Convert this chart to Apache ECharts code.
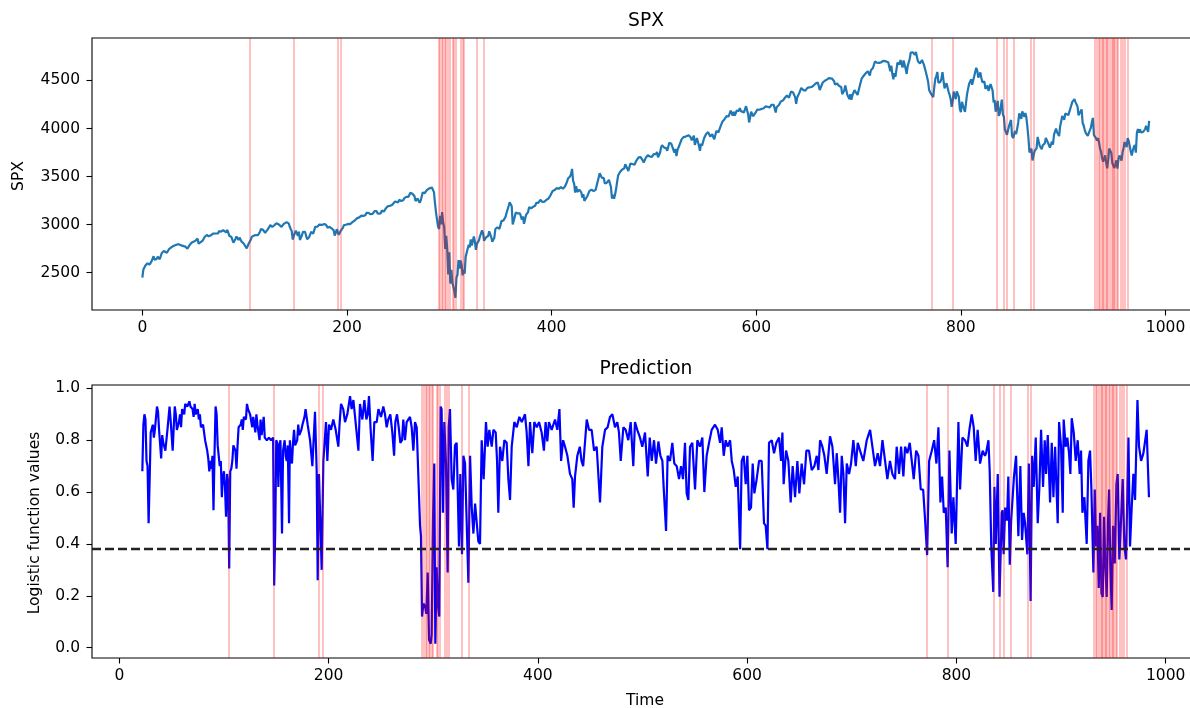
<!DOCTYPE html>
<html>
<head>
<meta charset="utf-8">
<title>SPX and prediction</title>
<script src="https://cdn.jsdelivr.net/npm/echarts@6/dist/echarts.min.js"></script>
<style>
  html, body { margin: 0; padding: 0; background: #fff; overflow: hidden; }
  #chart { width: 1210px; height: 708px; }
</style>
</head>
<body>
<div id="chart"></div>
<script>
// ---- S&P 500 closes by trading-day index ----
const spx2019 = [[0,2448],[1,2532],[3,2574],[5,2597],[7,2583],[9,2617],[11,2671],[12,2633],[14,2643],[15,2665],[17,2640],[19,2704],[21,2725],[22,2738],[24,2707],[26,2744],[27,2754],[30,2776],[32,2784],[34,2793],[36,2793],[38,2784],[39,2804],[42,2771],[44,2749],[45,2743],[46,2784],[48,2811],[50,2822],[52,2833],[54,2854],[55,2801],[57,2818],[59,2834],[61,2873],[63,2892],[65,2878],[67,2888],[69,2905],[72,2907],[74,2907],[75,2934],[77,2926],[79,2943],[80,2946],[82,2918],[83,2946],[85,2884],[87,2871],[89,2812],[91,2850],[92,2876],[94,2840],[95,2865],[97,2822],[99,2803],[100,2784],[102,2752],[103,2744],[104,2804],[106,2843],[107,2873],[109,2885],[111,2891],[113,2889],[115,2926],[116,2954],[118,2945],[120,2913],[122,2942],[124,2973],[125,2996],[127,2976],[129,2993],[131,3014],[133,3004],[134,2985],[136,2977],[138,3005],[139,3020],[141,3026],[143,3013],[144,2980],[145,2954],[146,2932],[147,2844],[148,2882],[150,2938],[152,2883],[153,2926],[154,2840],[156,2889],[157,2924],[159,2925],[161,2847],[163,2869],[165,2924],[167,2906],[169,2977],[171,2978],[173,3000],[174,3009],[176,2998],[178,3006],[180,2991],[181,2966],[183,2977],[185,2961],[186,2977],[187,2940],[188,2887],[189,2911],[190,2952],[191,2939],[192,2893],[194,2938],[196,2966],[197,2995],[199,2998],[201,3007],[203,3004],[205,3023],[206,3039],[208,3047],[210,3067],[212,3075],[214,3093],[216,3091],[218,3097],[219,3121],[221,3122],[223,3108],[225,3111],[227,3141],[228,3154],[229,3141],[230,3113],[231,3093],[233,3117],[234,3146],[236,3135],[238,3169],[240,3192],[242,3195],[244,3205],[245,3224],[247,3240],[248,3222],[250,3231]];
const spx2020 = [[251,3258],[253,3246],[255,3253],[256,3275],[258,3288],[260,3289],[262,3330],[264,3321],[266,3295],[267,3244],[269,3273],[271,3226],[272,3249],[274,3334],[276,3328],[278,3358],[280,3374],[281,3380],[283,3386],[284,3373],[285,3338],[286,3226],[287,3128],[288,3116],[289,2979],[290,2954],[291,3090],[292,3003],[293,3130],[294,3024],[295,2972],[296,2747],[297,2882],[298,2741],[299,2481],[300,2711],[301,2386],[302,2529],[303,2398],[304,2409],[305,2305],[306,2237],[307,2447],[308,2476],[309,2630],[310,2541],[311,2627],[312,2585],[313,2471],[314,2527],[315,2489],[316,2664],[317,2660],[318,2750],[319,2790],[320,2762],[321,2846],[322,2783],[323,2800],[324,2875],[325,2823],[326,2737],[327,2799],[329,2837],[330,2878],[332,2939],[333,2912],[334,2831],[336,2868],[338,2881],[339,2930],[341,2870],[342,2820],[344,2863],[345,2954],[347,2972],[349,2955],[351,3036],[353,3044],[355,3081],[356,3123],[358,3194],[359,3232],[361,3190],[362,3002],[363,3041],[365,3125],[367,3116],[369,3118],[371,3050],[372,3084],[373,3009],[375,3100],[377,3130],[378,3180],[380,3169],[382,3186],[384,3197],[385,3227],[387,3225],[389,3257],[390,3276],[391,3236],[393,3239],[395,3258],[397,3271],[399,3307],[401,3349],[403,3360],[405,3380],[407,3372],[409,3390],[411,3374],[413,3397],[415,3443],[416,3479],[418,3500],[419,3527],[420,3580],[421,3455],[422,3427],[423,3332],[424,3399],[425,3340],[427,3363],[429,3335],[430,3281],[431,3316],[432,3246],[433,3237],[435,3298],[437,3351],[439,3363],[441,3348],[443,3361],[445,3447],[447,3535],[449,3489],[451,3484],[452,3427],[454,3436],[456,3465],[458,3391],[459,3271],[460,3310],[461,3270],[462,3310],[463,3370],[464,3443],[465,3510],[467,3550],[469,3573],[471,3585],[472,3627],[474,3582],[475,3557],[477,3636],[479,3630],[481,3622],[483,3669],[485,3699],[487,3702],[489,3669],[490,3647],[492,3694],[494,3722],[496,3709],[498,3704],[500,3735],[502,3732],[503,3756]];
const spx2021 = [[504,3700],[506,3748],[507,3804],[508,3825],[510,3801],[512,3796],[513,3768],[515,3851],[517,3841],[518,3855],[520,3750],[521,3787],[522,3714],[523,3774],[525,3830],[527,3887],[529,3911],[531,3916],[532,3934],[534,3931],[536,3906],[537,3876],[539,3925],[540,3829],[541,3811],[542,3901],[544,3820],[545,3768],[546,3842],[547,3821],[549,3898],[551,3943],[553,3962],[554,3974],[555,3916],[557,3941],[558,3910],[559,3889],[561,3975],[563,3959],[564,3973],[565,4020],[567,4074],[569,4097],[571,4128],[573,4125],[575,4185],[577,4135],[578,4174],[579,4135],[581,4187],[583,4184],[584,4211],[585,4181],[586,4192],[588,4168],[590,4232],[592,4152],[593,4063],[594,4113],[595,4174],[597,4128],[599,4159],[601,4197],[603,4195],[605,4204],[607,4208],[609,4230],[611,4226],[613,4219],[615,4247],[617,4247],[619,4166],[620,4224],[622,4242],[624,4281],[626,4291],[627,4298],[628,4320],[630,4344],[632,4321],[634,4385],[636,4374],[638,4327],[639,4258],[640,4323],[642,4368],[644,4422],[646,4400],[648,4395],[650,4423],[652,4429],[654,4432],[656,4447],[658,4468],[660,4479],[661,4449],[662,4400],[663,4405],[665,4479],[667,4497],[669,4509],[670,4523],[671,4524],[672,4537],[674,4520],[676,4493],[677,4458],[679,4468],[681,4443],[683,4433],[684,4358],[685,4354],[686,4395],[687,4449],[689,4352],[690,4359],[691,4308],[692,4357],[693,4300],[694,4346],[696,4399],[699,4350],[701,4438],[703,4520],[705,4549],[707,4575],[709,4596],[711,4551],[712,4605],[714,4630],[716,4697],[718,4685],[720,4683],[722,4688],[724,4704],[726,4701],[727,4682],[729,4690],[731,4595],[732,4655],[733,4567],[734,4513],[735,4577],[736,4538],[738,4686],[739,4701],[740,4667],[741,4712],[743,4635],[744,4709],[746,4621],[747,4568],[748,4649],[750,4726],[751,4791],[753,4793],[754,4778],[755,4766]];
const spx2022 = [[756,4797],[757,4794],[758,4701],[760,4677],[762,4713],[763,4726],[764,4659],[766,4577],[767,4533],[768,4483],[769,4398],[770,4410],[771,4357],[773,4326],[774,4432],[775,4516],[776,4546],[777,4589],[778,4477],[780,4484],[781,4521],[782,4587],[783,4504],[784,4419],[785,4401],[786,4472],[788,4380],[789,4349],[790,4305],[791,4225],[792,4288],[793,4385],[794,4374],[795,4306],[796,4387],[798,4329],[799,4201],[800,4171],[801,4278],[803,4204],[804,4173],[806,4358],[808,4463],[810,4512],[811,4456],[813,4543],[815,4632],[816,4602],[817,4530],[818,4546],[819,4583],[820,4525],[821,4481],[823,4488],[824,4413],[825,4397],[826,4447],[827,4392],[829,4463],[831,4394],[832,4272],[833,4296],[834,4175],[835,4184],[836,4288],[837,4132],[838,4155],[839,4175],[840,4301],[841,4147],[842,4123],[843,3991],[844,4001],[845,3935],[846,3930],[847,4024],[849,4089],[850,3923],[851,3900],[852,3901],[853,3974],[854,3941],[856,4058],[857,4158],[858,4132],[859,4101],[860,4177],[862,4121],[863,4161],[864,4116],[865,4018],[866,3901],[867,3750],[868,3735],[869,3790],[870,3667],[871,3675],[872,3765],[874,3796],[875,3912],[876,3901],[877,3821],[879,3785],[880,3825],[882,3845],[883,3903],[885,3854],[887,3802],[888,3790],[889,3863],[890,3831],[891,3937],[893,3999],[894,3962],[896,3921],[897,4024],[898,4072],[899,4130],[900,4119],[901,4091],[902,4155],[905,4140],[906,4122],[907,4210],[909,4280],[910,4297],[911,4305],[912,4275],[914,4228],[915,4138],[916,4128],[918,4199],[919,4058],[920,4031],[921,3986],[922,3955],[923,3967],[924,3924],[925,3908],[926,3980],[927,4006],[928,4067],[929,4110],[930,3932],[931,3946],[932,3901],[933,3873],[934,3900],[935,3856],[936,3790],[937,3758],[938,3693],[939,3655],[940,3648],[941,3720],[942,3641],[943,3586],[944,3678],[945,3791],[946,3783],[947,3745],[948,3640],[949,3612],[950,3589],[951,3577],[952,3669],[953,3583],[954,3677],[955,3720],[956,3695],[957,3666],[958,3752],[959,3797],[960,3859],[961,3831],[962,3807],[963,3901],[964,3872],[965,3856],[966,3760],[967,3720],[968,3771],[969,3807],[970,3828],[971,3749],[972,3956],[973,3993],[974,3957],[975,3992],[976,3959],[977,3947],[978,3965],[979,3950],[980,3991],[981,4027],[982,4026],[983,3964],[984,4080]];

// ---- logistic model output (probability of "normal" regime) ----
const predA = [[22,.68],[23,.86],[24,.90],[25,.88],[26,.72],[27,.70],[28,.48],[29,.65],[30,.83],[32,.86],[33,.81],[34,.84],[36,.93],[37,.91],[38,.84],[40,.73],[41,.82],[42,.79],[44,.76],[45,.80],[46,.84],[48,.93],[49,.88],[51,.76],[52,.85],[53,.93],[54,.90],[55,.84],[57,.87],[58,.90],[59,.85],[60,.92],[62,.90],[63,.94],[65,.93],[67,.95],[68,.93],[70,.92],[71,.89],[72,.94],[73,.90],[75,.92],[76,.88],[77,.90],[78,.85],[80,.86],[81,.83],[82,.80],[84,.76],[85,.73],[86,.68],[87,.72],[88,.69],[89,.74],[90,.53],[91,.75],[92,.93],[93,.90],[94,.78],[95,.74],[96,.70],[97,.72],[98,.58],[99,.66],[100,.68],[101,.62],[102,.505],[103,.67],[104,.64],[105,.305],[106,.68],[107,.69],[108,.72],[109,.78],[110,.775],[111,.76],[112,.69],[113,.78],[114,.85],[116,.86],[117,.88],[118,.84],[119,.89],[121,.88],[122,.94],[123,.92],[125,.90],[126,.90],[127,.85],[128,.89],[130,.83],[131,.90],[132,.86],[134,.80],[135,.88],[136,.82],[138,.89],[139,.81],[141,.80],[143,.81],[145,.80],[147,.81],[148,.24],[149,.45],[150,.80],[151,.79],[152,.62],[153,.78],[154,.80],[155.5,.44],[156.5,.76],[158,.80],[159,.74],[160,.72],[161,.78],[162.2,.48],[163,.80],[164,.74],[165,.71],[166,.79],[167,.84],[168,.78],[170,.80],[171,.86],[172,.82],[174,.84],[175,.86],[177,.89],[178,.92],[180,.86]];
const predB = [[182.3,.80],[184.5,.70],[187,.91],[188.6,.685],[189.6,.26],[190.8,.67],[192.4,.67],[193.4,.30],[195,.72],[197.5,.87],[198.8,.72],[200.4,.86],[202.3,.84],[204.5,.88],[206.8,.84],[209.3,.775],[210.6,.87],[211.9,.94],[214,.92],[215.7,.87],[217.9,.90],[220.5,.97],[222,.92],[223.7,.955],[225.3,.89],[228.5,.76],[230,.94],[232.3,.88],[234.2,.955],[236.1,.88],[237.4,.90],[238.6,.97],[240.2,.84],[242.1,.72],[243.7,.87],[246,.87],[247.6,.92],[250.1,.89],[252.3,.93],[253.9,.90],[255.5,.85],[257,.88],[259,.90],[260.9,.83],[262.6,.74],[263.8,.87],[265.4,.90],[267,.85],[268.6,.79],[270.2,.80],[271.4,.88],[273,.80],[274.6,.87],[277.8,.89],[279.4,.85],[281,.76],[282.6,.87],[284.2,.85],[285.8,.85],[287.4,.47],[288.3,.43],[289.3,.12],[290.6,.17],[292.2,.16],[293.4,.13],[294.7,.29],[296,.03],[297.6,.015],[298.5,.05],[299.8,.49],[301,.71],[302,.015],[303.3,.31],[304.6,.16],[305.8,.12],[307.1,.93],[308,.92],[309.3,.52],[310.6,.87],[312.2,.71],[313.8,.29],[314.8,.85],[316,.92],[317.6,.65],[319.2,.61],[320.8,.78],[322.4,.79],[324.6,.39],[325.9,.67],[327.5,.36],[328.8,.74],[330.4,.71],[332.3,.71],[333.6,.25],[335.2,.74],[336.8,.54],[338.4,.44]];
const predC = [[340,.556],[343.1,.41],[344.7,.40],[346.3,.80],[348.2,.65],[350.4,.87],[352,.775],[353.6,.84],[355.9,.775],[357.5,.84],[359.7,.83],[361,.72],[362.2,.52],[363.8,.775],[366,.72],[368,.80],[370.2,.79],[371.8,.65],[373.4,.57],[375,.775],[377.5,.87],[379.8,.85],[382.3,.89],[384.6,.87],[387.7,.90],[389.3,.83],[391,.70],[392.5,.87],[394.7,.75],[396.6,.87],[398.9,.85],[401.1,.87],[403.6,.83],[405.8,.76],[407.4,.87],[409,.795],[410.6,.87],[413.2,.84],[416.4,.88],[418.6,.84],[420.6,.92],[422.2,.72],[424.1,.80],[426,.775],[428.2,.74],[430.7,.67],[432.9,.65],[434.2,.54],[435.5,.66],[437.7,.74],[440.1,.775],[441.7,.72],[443.3,.70],[446.7,.88],[448.9,.84],[451.4,.84],[453.7,.76],[456.2,.775],[459.4,.56],[461.6,.775],[464.2,.84],[466.7,.85],[468.9,.89],[471.2,.90],[473.7,.85],[475.9,.87],[477.5,.83],[479.2,.72],[481.7,.85],[483.9,.84],[486.4,.80],[488.7,.87],[491.2,.70],[492.8,.87],[495,.84],[497.6,.81],[499.8,.775]];
const predD = [[502.4,.83],[505,.66],[506.9,.81],[508.8,.72],[511,.80],[512.9,.71],[515.2,.795],[517.1,.74],[519,.72],[520.2,.62],[522.5,.45],[524,.74],[526.3,.72],[528.5,.79],[530.4,.71],[532.7,.70],[534.9,.65],[536.8,.70],[538.7,.65],[540.6,.79],[542.2,.595],[543.8,.57],[545.4,.775],[547.6,.79],[550.2,.61],[552.4,.80],[554.9,.775],[557.2,.81],[559.1,.60],[561.3,.74],[563.6,.79],[566.1,.84],[569.3,.86],[571.9,.84],[574.1,.79],[575.7,.85],[577.6,.74],[579.5,.80],[581.4,.775],[583.7,.80],[585.3,.72],[587.2,.685],[589.1,.62],[591,.66],[593.3,.38],[594.8,.72],[596.7,.74],[598.6,.63],[600.2,.74],[601.8,.53],[603.7,.54],[605.3,.71],[606.9,.595],[609.1,.65],[611.4,.72],[613.9,.72],[616.1,.48],[617.7,.47],[619.4,.38],[620.9,.79],[623.5,.80],[625.7,.75],[627.9,.79],[630.5,.81],[632.4,.72],[633.7,.83],[634.9,.63],[637.2,.76],[639.4,.72],[641.6,.56],[643.5,.70],[645.8,.58],[648,.72],[649.9,.595],[652.1,.71],[654.4,.63],[656.6,.76],[659.1,.76],[661.7,.685],[664.2,.70]];
const predE = [[666.5,.74],[668.1,.685],[669.7,.80],[671.9,.775],[673.8,.74],[676,.67],[679.2,.815],[681.5,.775],[684,.63],[685.6,.75],[687.2,.65],[688.8,.52],[690.4,.74],[692,.67],[693.6,.48],[695.2,.71],[697.4,.67],[699.3,.71],[701.5,.80],[703.8,.70],[705.7,.79],[707.9,.76],[711,.72],[714.3,.80],[717.5,.84],[719.7,.775],[722.2,.70],[724.8,.75],[727,.70],[729.3,.80],[731.8,.72],[734,.65],[736.5,.72],[738.8,.67],[741.3,.65],[742.9,.775],[745.2,.67],[747.1,.775],[749.3,.66],[750.9,.775],[753.1,.75],[755.4,.79],[757.3,.72],[759.2,.65],[761.5,.76],[763.7,.74],[765.9,.61],[768.2,.61],[770.1,.49],[772,.357],[773.9,.72],[776.5,.76],[778.7,.80],[780.9,.71],[782.8,.85],[784.7,.56],[786.3,.66],[787.9,.52],[789.8,.54],[791.6,.31],[793.3,.76],[795.5,.44],[797.1,.58],[799.3,.40],[801.9,.87],[803.5,.61],[805.7,.81],[808.2,.80],[810.5,.775],[812.4,.84],[814.6,.90],[816.5,.85],[818.4,.72],[820.3,.84],[822.6,.71],[825.1,.76],[827.3,.74]];
const predF = [[828.3,.75],[830.6,.80],[831.8,.68],[833.3,.39],[835.2,.215],[836.3,.62],[837.6,.40],[839.5,.67],[841.2,.196],[843.3,.52],[844.2,.53],[845.1,.36],[846.6,.54],[848.4,.49],[849.6,.66],[851,.32],[852.3,.49],[853.8,.49],[855,.66],[857,.74],[859.2,.43],[861.1,.70],[862.7,.415],[864.3,.52],[865.6,.48],[867.8,.36],[869.2,.71],[870.9,.18],[872.3,.74],[873.9,.62],[875.8,.81],[877.7,.48],[879.3,.62],[880.9,.84],[882.8,.62],[884.4,.80],[885.7,.67],[887.3,.82],[889.5,.56],[891.1,.79],[892.7,.58],[894.3,.775],[896.8,.48],[898.1,.87],[900,.775],[901.6,.52],[902.5,.88],[904.4,.775],[906,.81],[907.6,.75],[908.9,.67],[910.2,.885],[912.1,.83],[914,.72],[915.9,.80],[917.8,.67],[919.1,.76],[920.4,.52],[922.3,.58],[924.5,.40],[926.1,.72],[927.7,.76],[929,.61],[930.9,.29],[932.2,.61],[933.5,.39],[934.7,.47],[936,.23],[937.3,.52],[938.6,.21],[939.8,.195],[941.1,.505],[942.4,.31],[943.6,.195],[944.9,.49],[945.9,.61],[947.1,.31],[948.4,.145],[949.7,.47],[951.3,.325],[952.9,.63],[954.1,.67],[955.7,.34],[957.3,.49],[958.9,.65],[960.5,.39],[962.1,.34],[964.4,.81],[965.9,.39],[967.5,.54],[969.1,.67],[970.7,.57],[973,.955],[974.5,.775],[976.5,.72],[978.7,.75],[981.8,.84],[984,.58]];

// days flagged by the model (prediction below the cut-off)
const alertDays = [105,148,190.5,194,289.5,291,292.5,294,295.5,297,298.5,300,303,304.5,306,311,313,314.5,327,334,772,792,835.5,841.5,845,851.5,868,871,931,933,934.5,936,937.5,939,940,941.5,942.5,944,945.5,947,948,949.5,950.5,952,953,956,958,960,963];
const threshold = 0.377;

// tick positions
const xTicks = [0, 200, 400, 600, 800, 1000];
const spxTicks = [2500, 3000, 3500, 4000, 4500];
const predTicks = [0, 0.2, 0.4, 0.6, 0.8, 1.0];

const spx = [].concat(spx2019, spx2020, spx2021, spx2022);
const pred = [].concat(predA, predB, predC, predD, predE, predF);

const FONT = 'DejaVu Sans';
const TXT = '#000';
const GRID_LEFT = 92, GRID_W = 1107.5;

function xAxisCfg(gridIndex, min, max) {
  return {
    gridIndex, type: 'value', min, max, position: 'bottom',
    axisLine: { show: false, onZero: false },
    splitLine: { show: false },
    axisTick: { show: true, length: 5.5, customValues: xTicks, lineStyle: { color: '#000', width: 1.1 } },
    axisLabel: { customValues: xTicks, fontFamily: FONT, fontSize: 15.5, color: TXT, margin: 10, formatter: v => String(v) }
  };
}
function yAxisCfg(gridIndex, min, max, ticks, fmt) {
  return {
    gridIndex, type: 'value', min, max, position: 'left',
    axisLine: { show: false, onZero: false },
    splitLine: { show: false },
    axisTick: { show: true, length: 5.5, customValues: ticks, lineStyle: { color: '#000', width: 1.1 } },
    axisLabel: { customValues: ticks, fontFamily: FONT, fontSize: 15.5, color: TXT, margin: 12, formatter: fmt }
  };
}
function vLines(xi, yi) {
  return {
    type: 'line', xAxisIndex: xi, yAxisIndex: yi, data: [], z: 5, silent: true,
    markLine: {
      silent: true, symbol: ['none', 'none'], animation: false,
      label: { show: false },
      lineStyle: { color: 'rgba(255,0,0,0.24)', width: 2, type: 'solid' },
      emphasis: { disabled: true },
      data: alertDays.map(d => ({ xAxis: d }))
    }
  };
}
function label(text, x, y, size, rot) {
  return {
    type: 'text', x, y, rotation: rot || 0, silent: true,
    style: { text, fill: TXT, fontFamily: FONT, fontSize: size, textAlign: 'center', textVerticalAlign: 'middle' }
  };
}

const chart = echarts.init(document.getElementById('chart'), null, { renderer: 'canvas' });
chart.setOption({
  animation: false,
  backgroundColor: '#fff',
  grid: [
    { left: GRID_LEFT, top: 38, width: GRID_W, height: 272, show: true, borderColor: '#000', borderWidth: 1.1, backgroundColor: 'transparent' },
    { left: GRID_LEFT, top: 385, width: GRID_W, height: 273, show: true, borderColor: '#000', borderWidth: 1.1, backgroundColor: 'transparent' }
  ],
  xAxis: [ xAxisCfg(0, -49.2, 1033.2), xAxisCfg(1, -26.1, 1032.3) ],
  yAxis: [
    yAxisCfg(0, 2111, 4942, spxTicks, v => String(v)),
    yAxisCfg(1, -0.04, 1.013, predTicks, v => v.toFixed(1))
  ],
  series: [
    { type: 'line', name: 'SPX', xAxisIndex: 0, yAxisIndex: 0, data: spx, showSymbol: false, symbol: 'none',
      lineStyle: { color: '#1f77b4', width: 2.2 }, z: 2, silent: true },
    vLines(0, 0),
    { type: 'line', name: 'Prediction', xAxisIndex: 1, yAxisIndex: 1, data: pred, showSymbol: false, symbol: 'none',
      lineStyle: { color: '#0000ff', width: 2.2 }, z: 2, silent: true },
    vLines(1, 1),
    { type: 'line', xAxisIndex: 1, yAxisIndex: 1, data: [], z: 6, silent: true,
      markLine: { silent: true, symbol: ['none', 'none'], animation: false, label: { show: false },
        lineStyle: { color: '#222', width: 2.3, type: [9, 4] },
        data: [{ yAxis: threshold }] } }
  ],
  graphic: [
    label('SPX', 646, 21.5, 18.7),
    label('Prediction', 646, 369, 18.7),
    label('SPX', 18.5, 176, 15.5, Math.PI / 2),
    label('Logistic function values', 35, 523, 15.5, Math.PI / 2),
    label('Time', 645, 701, 15.5)
  ]
});
</script>
</body>
</html>
